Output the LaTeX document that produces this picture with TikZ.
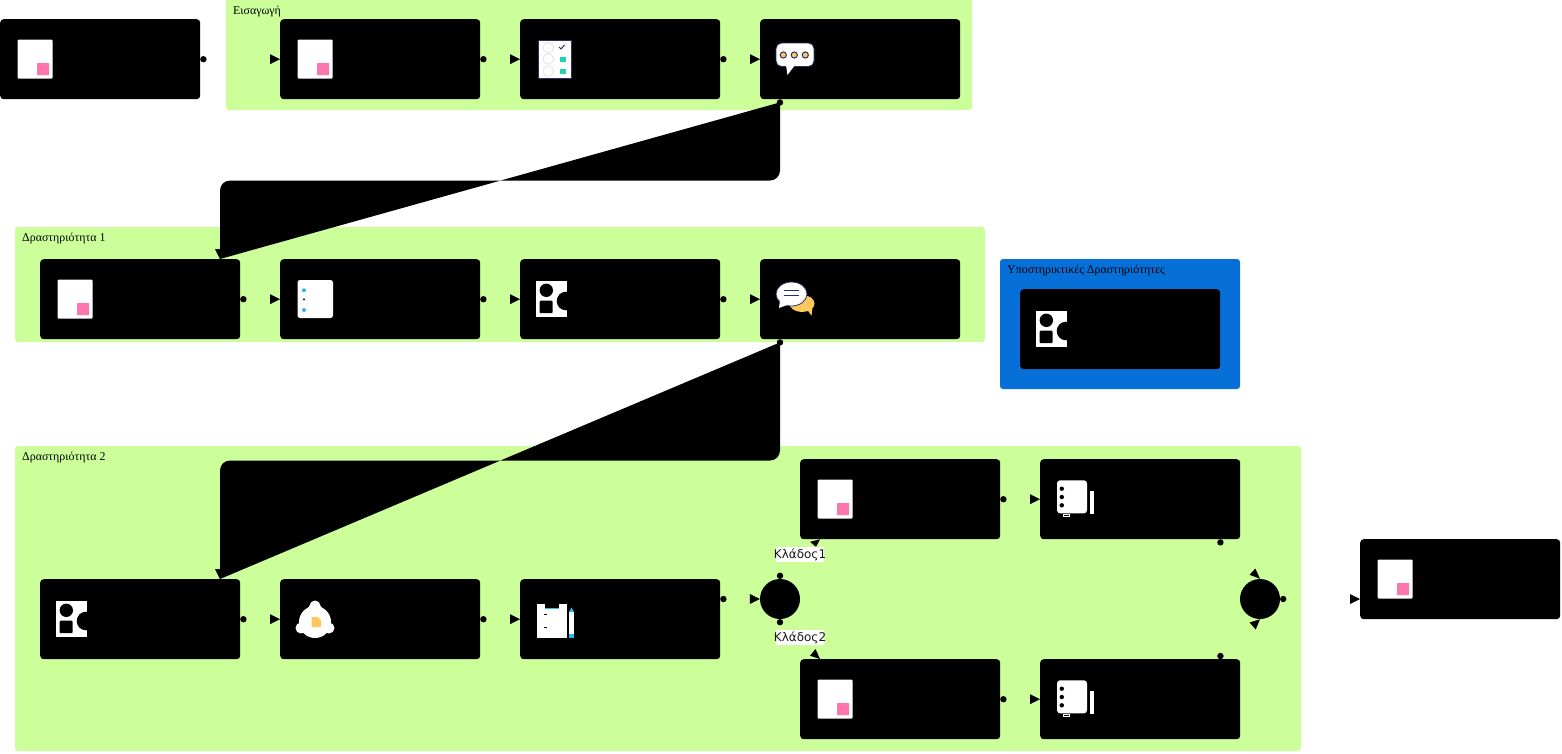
\documentclass[tikz,border=0pt]{standalone}
\usepackage{fontspec}
\setmainfont{Liberation Serif}
\newfontfamily\lblfont{DejaVu Sans}
\usetikzlibrary{calc}
\definecolor{groupgreen}{HTML}{CCFF99}
\definecolor{groupblue}{HTML}{0670D8}
\definecolor{docpink}{HTML}{FF75AD}
\definecolor{iconnavy}{HTML}{2B2F63}
\definecolor{iconteal}{HTML}{1DD3B0}
\definecolor{iconorange}{HTML}{FFC85F}
\definecolor{iconblue}{HTML}{2DB8F0}
\definecolor{facegrey}{HTML}{DDDDDD}
\tikzset{
  x=1pt,y=-1pt,
  groupbox/.style={fill=groupgreen,rounded corners=3pt},
  activity/.style={fill=black,rounded corners=3.5pt,anchor=north west,inner sep=0pt,minimum width=200pt,minimum height=80pt},
  gateway/.style={fill=black,circle,inner sep=0pt,minimum size=40pt},
  grouptitle/.style={anchor=west,inner sep=0pt,font=\fontsize{11.9}{14}\selectfont,text=black},
  branchlabel/.style={fill=white,inner ysep=1pt,inner xsep=-2.5pt,font=\lblfont\fontsize{12}{14}\selectfont,text=black!90},
  connector/.style={fill=black},
}
\newcommand{\dotat}[1]{\path[connector] (#1) circle (3.2pt);}
\newcommand{\tipat}[3]{\path[connector] (#1) -- ++(#2) -- ++(#3) -- cycle;}
% straight connector: dot past the source, arrowhead on the target
\newcommand{\flow}[2]{\dotat{$(#1.east)+(3,0)$}\tipat{#2.west}{-10,-5}{0,10}}
\newcommand{\docicon}[1]{%
  \fill[white,rounded corners=1pt] ($(#1)+(17.5,20.5)$) rectangle ++(35,39);
  \fill[docpink,rounded corners=.5pt] ($(#1)+(37,44)$) rectangle ++(12,12);}
\newcommand{\shapeicon}[1]{%
  \fill[white] ($(#1)+(15.5,21.7)$) rectangle ++(31.5,36.5);
  \fill[black] ($(#1)+(26.3,31.3)$) circle (6.7pt);
  \fill[black,rounded corners=1pt] ($(#1)+(19.6,41.7)$) rectangle ++(13,12.5);
  \fill[black] ($(#1)+(46,42)$) circle (9.3pt);}
\newcommand{\noteicon}[1]{%
  \fill[white,rounded corners=3pt] ($(#1)+(17,21.3)$) rectangle ++(30,33);
  \foreach \yy in {29.7,38,46.3}{\fill[black] ($(#1)+(21.8,\yy)$) circle (2.2pt);}
  \fill[white] ($(#1)+(49.8,32)$) rectangle ++(4.4,23);
  \draw[white,line width=.7pt] ($(#1)+(23.2,55)$) rectangle ++(6.4,2.6);}
\begin{document}
\begin{tikzpicture}
\useasboundingbox (0,0) rectangle (1562,753);
\clip (0,0) rectangle (1562,753);
% groups
\path[groupbox] (226,-4) rectangle (972,110);
\path[groupbox] (15,227) rectangle (985,342);
\path[groupbox] (15,446) rectangle (1301,751);
\path[fill=groupblue,rounded corners=3pt] (1000,259) rectangle (1240,389);
\node[grouptitle] (tIntro) at (233,11.5) {Εισαγωγή};
\node[grouptitle] (tAct1) at (22,238.5) {Δραστηριότητα 1};
\node[grouptitle] (tAct2) at (22,457.5) {Δραστηριότητα 2};
\node[grouptitle] (tSupp) at (1007,270.5) {Υποστηρικτικές Δραστηριότητες};
% row 1
\node[activity] (start) at (0,19) {};
\node[activity] (a1) at (280,19) {};
\node[activity] (a2) at (520,19) {};
\node[activity] (a3) at (760,19) {};
% row 2
\node[activity] (b1) at (40,259) {};
\node[activity] (b2) at (280,259) {};
\node[activity] (b3) at (520,259) {};
\node[activity] (b4) at (760,259) {};
\node[activity] (supp) at (1020,289) {};
% row 3
\node[activity] (c1) at (40,579) {};
\node[activity] (c2) at (280,579) {};
\node[activity] (c3) at (520,579) {};
\node[gateway] (split) at (780,599) {};
\node[activity] (u1) at (800,459) {};
\node[activity] (u2) at (1040,459) {};
\node[activity] (d1) at (800,659) {};
\node[activity] (d2) at (1040,659) {};
\node[gateway] (join) at (1260,599) {};
\node[activity] (end) at (1360,539) {};
% straight connectors
\flow{start}{a1}\flow{a1}{a2}\flow{a2}{a3}
\flow{b1}{b2}\flow{b2}{b3}\flow{b3}{b4}
\flow{c1}{c2}\flow{c2}{c3}
\flow{u1}{u2}\flow{d1}{d2}
% connectors that leave or enter a box at the height of a gateway
\dotat{$(c3.east |- split)+(3,0)$}
\tipat{split.west}{-10,-5}{0,10}
\dotat{$(join.east)+(3,0)$}
\tipat{end.west |- join}{-10,-5}{0,10}
% filled long connectors
\coordinate (s1) at ($(a3.south west)+(20,3)$);
\coordinate (t1) at ($(b1.north west)+(180,0)$);
\coordinate (m1) at (500,180.5);
\fill[black] (s1) [rounded corners=10pt] -- (s1 |- m1) -- (t1 |- m1) [sharp corners] -- (t1) -- cycle;
\dotat{s1}\tipat{t1}{-5,-10}{10,0}
\coordinate (s2) at ($(b4.south west)+(20,3)$);
\coordinate (t2) at ($(c1.north west)+(180,0)$);
\coordinate (m2) at (500,460.5);
\fill[black] (s2) [rounded corners=10pt] -- (s2 |- m2) -- (t2 |- m2) [sharp corners] -- (t2) -- cycle;
\dotat{s2}\tipat{t2}{-5,-10}{10,0}
% branch connectors
\dotat{$(split.north)+(0,-3)$}
\dotat{$(split.south)+(0,3)$}
\tipat{$(u1.south west)+(20,0)$}{-10,2.4}{6,5}
\tipat{$(d1.north west)+(20,0)$}{-10,-3.3}{5.5,-6.7}
\node[branchlabel] (l1) at (800,554.5) {Κλάδος1};
\node[branchlabel] (l2) at (800,637.5) {Κλάδος2};
\dotat{$(u2.south east)+(-20,3)$}
\dotat{$(d2.north east)+(-20,-3)$}
\tipat{join.north}{-10.4,-4}{5.7,-6.3}
\tipat{join.south}{-10.4,3.3}{6.1,7}
% icons
\docicon{start.north west}
\docicon{a1.north west}
\docicon{b1.north west}
\docicon{u1.north west}
\docicon{d1.north west}
\docicon{end.north west}
\shapeicon{b3.north west}
\shapeicon{supp.north west}
\shapeicon{c1.north west}
\noteicon{u2.north west}
\noteicon{d2.north west}
% checklist icon
\draw[iconnavy,fill=white,line width=.8pt] (538.5,40) rectangle (571.5,78);
\foreach \yy in {47.7,59,71}{\draw[facegrey,line width=.6pt] (548.3,\yy) circle (5.3pt);}
\draw[iconnavy,line width=1pt] (559,47) -- (561,49) -- (564.5,45);
\fill[iconteal] (559.5,57) rectangle (565.5,62);
\fill[iconteal] (559.5,68.5) rectangle (565.5,73.5);
% speech icon
\draw[iconnavy,fill=white,line width=.8pt,rounded corners=5.5pt] (776,43) rectangle (814,66.5);
\fill[white] (786,65) -- (787.5,75) -- (795,65) -- cycle;
\foreach \xx in {783.3,794.3,805.3}{\draw[iconnavy,fill=iconorange,line width=1pt] (\xx,55) circle (3.1pt);}
% list icon
\fill[white,rounded corners=2.5pt] (297.5,280) rectangle (333,318);
\fill[iconblue] (304,290.3) circle (2pt);
\fill[iconnavy] (304,299.3) circle (1.2pt);
\fill[iconblue] (304,310) circle (2pt);
% chat icon
\fill[iconorange] (802,303.5) ellipse [x radius=12.5pt,y radius=8.5pt];
\fill[iconorange] (806,308) -- (811.5,315.7) -- (813,303) -- cycle;
\draw[iconnavy,fill=white,line width=.8pt] (791.5,294) ellipse [x radius=15.5pt,y radius=12pt];
\fill[white] (780,300) -- (779,308) -- (790,304) -- cycle;
\draw[iconnavy,line width=1.2pt] (783.7,290.7) -- (799,290.7);
\draw[iconnavy,line width=1.2pt] (783.7,295.7) -- (799,295.7);
% bell icon
\fill[white] (315,622) circle (16pt);
\fill[white] (315,606) circle (5.5pt);
\fill[white] (301,628) circle (5.5pt);
\fill[white] (329,628) circle (5.5pt);
\fill[white] (303,614) -- (311,604) -- (319,604) -- (327,614) -- cycle;
\fill[iconorange] (311.5,617) -- (318,617) -- (321,620) -- (321,627) -- (311.5,627) -- cycle;
% clipboard icon
\fill[white] (537.4,604) rectangle (566.7,638.3);
\fill[black] (545,603.5) rectangle (558.7,608);
\fill[iconblue] (545,608) rectangle (558.7,609);
\fill[black] (544,614) rectangle (546.5,615);
\fill[black] (544,627) rectangle (546.5,628);
\fill[white] (569,612) rectangle (574,638);
\fill[iconblue] (569,612) -- (571.5,607.7) -- (574,612) -- cycle;
\fill[iconblue] (569,634) rectangle (574,638);
\end{tikzpicture}
\end{document}
